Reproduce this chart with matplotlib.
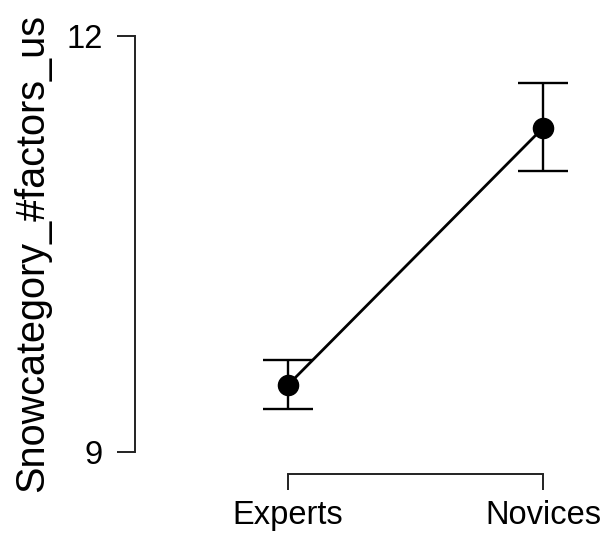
import numpy as np
import matplotlib.pyplot as plt

plt.rcParams['font.family'] = ['Liberation Sans', 'DejaVu Sans']

# group means and error bar limits
groups = ['Experts', 'Novices']
means = [9.483, 11.336]
lower = [9.308, 11.025]
upper = [9.663, 11.661]
y_ticks = [9, 12]
y_label = 'Snowcategory_#factors_us'

x = np.arange(len(groups))
means = np.array(means)
err = np.array([means - np.array(lower), np.array(upper) - means])

fig = plt.figure(figsize=(6.06, 5.33), dpi=100)
ax = fig.add_axes([135 / 606, 59 / 533, 459 / 606, 438.3 / 533])

ax.plot(x, means, color='black', lw=2.0, zorder=2)
ax.errorbar(x, means, yerr=err, fmt='none', ecolor='black', elinewidth=1.7,
            capsize=18, capthick=1.7, zorder=2)
ax.plot(x, means, 'o', color='black', markersize=14.5, zorder=3)

ax.set_xlim(-0.6, 1.2)
ax.set_ylim(8.8415, 12)

for side in ['top', 'right']:
    ax.spines[side].set_visible(False)
ax.spines['left'].set_bounds(9, 12)
ax.spines['bottom'].set_bounds(0, 1)
for side in ['left', 'bottom']:
    ax.spines[side].set_linewidth(1.4)
    ax.spines[side].set_color('#222222')

ax.set_yticks(y_ticks)
ax.set_yticklabels([str(t) for t in y_ticks])
ax.set_xticks(x)
ax.set_xticklabels(groups)
ax.tick_params(axis='y', length=13, width=1.4, pad=10, labelsize=23.5, color='#222222')
ax.tick_params(axis='x', length=11.5, width=1.4, pad=7.5, labelsize=23.5, color='#222222')

fig.text(51 / 606, 0.525, y_label, rotation=90, ha='right', va='center', fontsize=28.5)

fig.savefig('out.png', dpi=100)
